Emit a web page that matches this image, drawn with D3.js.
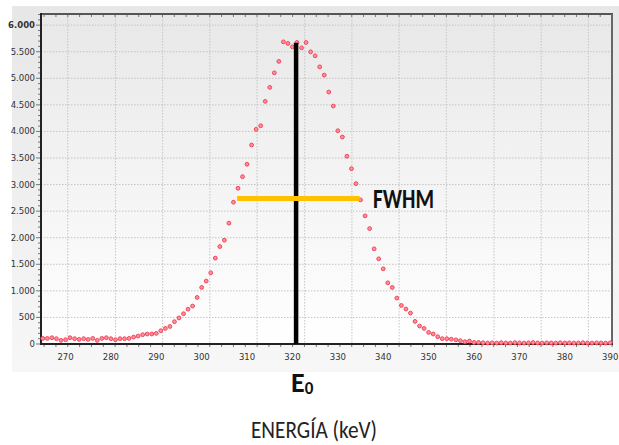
<!DOCTYPE html>
<html>
<head>
<meta charset="utf-8">
<script src="https://cdn.jsdelivr.net/npm/d3@7"></script>
<style>
  body { margin: 0; background: #fff; }
  svg { display: block; }
</style>
</head>
<body>
<div id="chart"></div>
<script>
// cuentas por canal, 1 keV por punto, desde 265 keV
const firstEnergy = 265;
const counts = [
  105, 105, 118, 100, 68, 80, 118, 100, 86, 100,
  86, 105, 68, 105, 118, 100, 80, 100, 100, 105,
  130, 150, 175, 188, 188, 200, 250, 293, 330, 420,
  490, 570, 655, 714, 876, 1064, 1184, 1340, 1616, 1834,
  1954, 2274, 2668, 2931, 3149, 3382, 3745, 4040, 4107, 4566,
  4829, 5103, 5318, 5686, 5656, 5592, 5675, 5573, 5675, 5498,
  5423, 5216, 5060, 4741, 4478, 4013, 3895, 3533, 3300, 3018,
  2711, 2411, 2172, 1791, 1603, 1415, 1152, 1064, 864, 725,
  658, 582, 425, 338, 293, 218, 188, 137, 100, 100,
  90, 78, 62, 43, 56, 30, 30, 24, 19,
  22, 18, 25, 20, 18, 26, 20, 18, 22, 28,
  20, 18, 22, 20, 18, 24, 20, 22, 18, 20,
  25, 20, 18, 22, 20, 18, 22
];
const xTicks = [270, 280, 290, 300, 310, 320, 330, 340, 350, 360, 370, 380, 390];
const yTicks = [0, 500, 1000, 1500, 2000, 2500, 3000, 3500, 4000, 4500, 5000, 5500, 6000];
// the vertical grid of the original does not sit on the labels
const xGrid = [270.5, 281, 291.4, 301.8, 312.2, 322.7, 333.1, 343.5, 353.9, 364.4, 374.8, 385.2];
const peakE0 = 320.8;
const peakTop = 5667;
const fwhmFrom = 307.8;
const fwhmTo = 334.8;
const halfMax = 2740;

const points = counts.map((c, i) => ({ e: firstEnergy + i, c: c }));

const W = 619, H = 445;
const pLeft = 41, pRight = 612, pTop = 14, pBottom = 344;

const x = d3.scaleLinear().domain([264.6, 390.4]).range([pLeft, pRight]);
const y = d3.scaleLinear().domain([0, 6210]).range([pBottom, pTop]);

const svg = d3.select("#chart").append("svg")
  .attr("width", W)
  .attr("height", H);

const defs = svg.append("defs");
const g1 = defs.append("linearGradient").attr("id", "panelGrad")
  .attr("x1", 0).attr("y1", 0).attr("x2", 0).attr("y2", 1);
g1.append("stop").attr("offset", "0%").attr("stop-color", "#e7e7e7");
g1.append("stop").attr("offset", "100%").attr("stop-color", "#f7f7f7");
const g2 = defs.append("linearGradient").attr("id", "plotGrad")
  .attr("x1", 0).attr("y1", 0).attr("x2", 0).attr("y2", 1);
g2.append("stop").attr("offset", "0%").attr("stop-color", "#e8e8e8");
g2.append("stop").attr("offset", "100%").attr("stop-color", "#ffffff");

// fondo del panel y del area del grafico
svg.append("rect")
  .attr("x", 12).attr("y", 6)
  .attr("width", W - 12).attr("height", 366)
  .attr("fill", "url(#panelGrad)");
svg.append("rect")
  .attr("x", pLeft).attr("y", pTop)
  .attr("width", pRight - pLeft).attr("height", pBottom - pTop)
  .attr("fill", "url(#plotGrad)");

// rejilla
svg.append("g").selectAll("line")
  .data(yTicks.slice(1))
  .join("line")
  .attr("x1", pLeft).attr("x2", pRight)
  .attr("y1", d => y(d)).attr("y2", d => y(d))
  .attr("stroke", "#c4c4c4")
  .attr("stroke-dasharray", "1.5,1.5");

svg.append("g").selectAll("line")
  .data(xGrid)
  .join("line")
  .attr("x1", d => x(d)).attr("x2", d => x(d))
  .attr("y1", pTop).attr("y2", pBottom)
  .attr("stroke", "#c4c4c4")
  .attr("stroke-dasharray", "1.5,1.5");

// marcas menores arriba y abajo
const gridStep = (xGrid[xGrid.length - 1] - xGrid[0]) / (xGrid.length - 1);
const minorX = [];
for (let v = xGrid[0] - gridStep; v < 391; v += gridStep / 4) {
  if (v > 264.8) minorX.push(v);
}
svg.append("g").selectAll("line")
  .data(minorX)
  .join("line")
  .attr("x1", d => x(d)).attr("x2", d => x(d))
  .attr("y1", pTop).attr("y2", pTop + 3)
  .attr("stroke", "#777");
svg.append("g").selectAll("line")
  .data(minorX)
  .join("line")
  .attr("x1", d => x(d)).attr("x2", d => x(d))
  .attr("y1", pBottom).attr("y2", pBottom + 3)
  .attr("stroke", "#777");

// marcas menores del eje y
const minorY = d3.range(0, 6201, 100);
svg.append("g").selectAll("line")
  .data(minorY)
  .join("line")
  .attr("x1", d => (d % 500 === 0 ? pLeft - 5 : pLeft - 3)).attr("x2", pLeft)
  .attr("y1", d => y(d)).attr("y2", d => y(d))
  .attr("stroke", "#777");

// bordes
svg.append("line")
  .attr("x1", pLeft).attr("x2", pRight + 1).attr("y1", pTop).attr("y2", pTop)
  .attr("stroke", "#555").attr("stroke-width", 2);
svg.append("line")
  .attr("x1", pRight).attr("x2", pRight).attr("y1", pTop).attr("y2", pBottom)
  .attr("stroke", "#666").attr("stroke-width", 2);
svg.append("line")
  .attr("x1", pLeft).attr("x2", pRight + 1).attr("y1", pBottom).attr("y2", pBottom)
  .attr("stroke", "#222").attr("stroke-width", 2);
svg.append("line")
  .attr("x1", pLeft).attr("x2", pLeft).attr("y1", pTop - 1).attr("y2", pBottom + 1)
  .attr("stroke", "#222").attr("stroke-width", 2);

// etiquetas de los ejes
const fmt = d3.formatLocale({ decimal: ",", thousands: ".", grouping: [3], currency: ["", "€"] }).format(",d");

svg.append("g").selectAll("text")
  .data(yTicks)
  .join("text")
  .attr("x", 35)
  .attr("y", d => y(d) + 3)
  .attr("text-anchor", "end")
  .attr("font-family", "DejaVu Sans, sans-serif")
  .attr("font-size", 8.5)
  .attr("font-weight", d => (d === 6000 ? "bold" : "normal"))
  .attr("fill", "#333")
  .text(d => fmt(d));

svg.append("g").selectAll("text")
  .data(xTicks)
  .join("text")
  .attr("x", d => x(d))
  .attr("y", 360)
  .attr("text-anchor", "middle")
  .attr("font-family", "DejaVu Sans, sans-serif")
  .attr("font-size", 8.5)
  .attr("fill", "#333")
  .text(d => d);

// puntos del espectro
svg.append("g").selectAll("circle")
  .data(points)
  .join("circle")
  .attr("cx", d => x(d.e))
  .attr("cy", d => y(d.c))
  .attr("r", 1.9)
  .attr("fill", "#ff8f9a")
  .attr("stroke", "#f2465a")
  .attr("stroke-width", 1);

// E0 y FWHM
svg.append("line")
  .attr("x1", x(peakE0)).attr("x2", x(peakE0))
  .attr("y1", y(peakTop)).attr("y2", pBottom)
  .attr("stroke", "#000").attr("stroke-width", 4.5);

svg.append("line")
  .attr("x1", x(fwhmFrom)).attr("x2", x(fwhmTo))
  .attr("y1", y(halfMax)).attr("y2", y(halfMax))
  .attr("stroke", "#ffc000").attr("stroke-width", 5);

svg.append("text")
  .attr("x", 373)
  .attr("y", y(halfMax) + 10)
  .attr("font-family", "Carlito, 'Liberation Sans Narrow', 'Open Sans', sans-serif")
  .attr("font-size", 28)
  .attr("font-weight", "bold")
  .attr("textLength", 61)
  .attr("lengthAdjust", "spacingAndGlyphs")
  .attr("fill", "#111")
  .text("FWHM");

const e0 = svg.append("text")
  .attr("x", 291)
  .attr("y", 392)
  .attr("font-family", "Carlito, 'Liberation Sans Narrow', 'Open Sans', sans-serif")
  .attr("font-weight", "bold")
  .attr("fill", "#111");
e0.append("tspan").attr("font-size", 28).text("E");
e0.append("tspan").attr("font-size", 17).attr("dy", 2).text("0");

svg.append("text")
  .attr("x", 314)
  .attr("y", 438)
  .attr("text-anchor", "middle")
  .attr("font-family", "Carlito, 'Liberation Sans Narrow', 'Open Sans', sans-serif")
  .attr("font-size", 25)
  .attr("textLength", 126)
  .attr("lengthAdjust", "spacingAndGlyphs")
  .attr("fill", "#222")
  .text("ENERGÍA (keV)");
</script>
</body>
</html>
